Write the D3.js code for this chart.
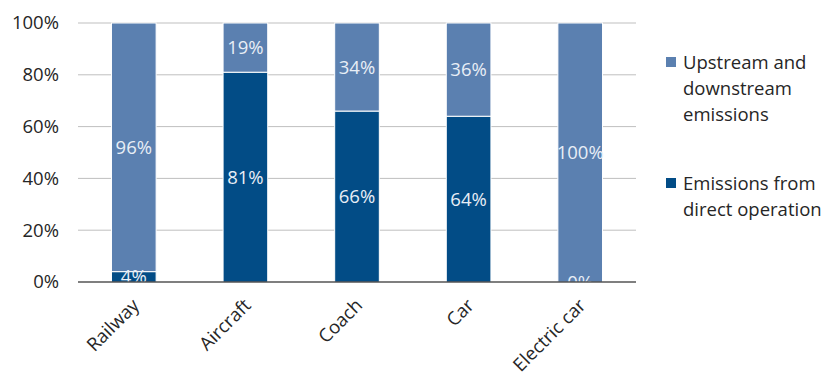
<!DOCTYPE html>
<html>
<head>
<meta charset="utf-8">
<style>
  body { margin: 0; background: #fff; }
  svg text { font-family: "Open Sans", "Noto Sans", sans-serif; }
  .grid line { stroke: #bfbfbf; stroke-width: 1px; }
  .tick text { font-size: 18.5px; fill: #262626; }
</style>
</head>
<body>
<script src="https://d3js.org/d3.v7.min.js"></script>
<script>
  var categories = ["Railway", "Aircraft", "Coach", "Car", "Electric car"];
  var direct   = [4, 81, 66, 64, 0];    // Emissions from direct operation
  var upstream = [96, 19, 34, 36, 100]; // Upstream and downstream emissions
  var yTicks = [0, 20, 40, 60, 80, 100];
  var legendLabels = [["Upstream and", "downstream", "emissions"], ["Emissions from", "direct operation"]];

  var colDirect = "#024c86", colUp = "#5b80b0";

  var W = 827, H = 381;
  var m = { top: 23, left: 78, right: 191, bottom: 99 };
  var w = W - m.left - m.right, h = H - m.top - m.bottom;

  var svg = d3.select("body").append("svg").attr("width", W).attr("height", H);
  var g = svg.append("g").attr("transform", "translate(" + m.left + "," + m.top + ")");

  var x = d3.scaleBand().domain(categories).range([0, w]).paddingInner(0.6).paddingOuter(0.3);
  var y = d3.scaleLinear().domain([0, 100]).range([h, 0]);

  // gridlines
  g.append("g").attr("class", "grid")
    .selectAll("line").data(yTicks.slice(1)).enter().append("line")
      .attr("x1", 0).attr("x2", w)
      .attr("y1", function (d) { return y(d); }).attr("y2", function (d) { return y(d); });

  // y axis labels
  var ya = g.append("g").call(d3.axisLeft(y).tickValues(yTicks).tickSize(0).tickPadding(19)
      .tickFormat(function (d) { return d + "%"; }));
  ya.select(".domain").remove();

  svg.append("defs").append("clipPath").attr("id", "plot")
    .append("rect").attr("x", 0).attr("y", -5).attr("width", w).attr("height", h + 5);

  var rows = categories.map(function (c, i) {
    return { cat: c, d: direct[i], u: upstream[i] };
  });

  var bars = g.append("g");
  bars.selectAll("rect.direct").data(rows).enter().append("rect")
    .attr("x", function (r) { return x(r.cat); })
    .attr("width", x.bandwidth())
    .attr("y", function (r) { return y(r.d); })
    .attr("height", function (r) { return h - y(r.d); })
    .style("fill", colDirect).style("stroke", "#fff").style("stroke-width", 1);

  bars.selectAll("rect.up").data(rows).enter().append("rect")
    .attr("x", function (r) { return x(r.cat); })
    .attr("width", x.bandwidth())
    .attr("y", function (r) { return y(r.d + r.u); })
    .attr("height", function (r) { return y(r.d) - y(r.d + r.u); })
    .style("fill", colUp).style("stroke", "#fff").style("stroke-width", 1);

  // data labels
  var labs = g.append("g").attr("clip-path", "url(#plot)")
    .style("font-size", "18.5px").style("fill", "#e8eef6").attr("text-anchor", "middle");
  rows.forEach(function (r) {
    labs.append("text").attr("x", x(r.cat) + x.bandwidth() / 2)
      .attr("y", y(r.d / 2)).attr("dy", "0.36em").text(r.d + "%");
    labs.append("text").attr("x", x(r.cat) + x.bandwidth() / 2)
      .attr("y", y(r.d + r.u / 2)).attr("dy", "0.36em").text(r.u + "%");
  });

  // baseline
  g.append("line").attr("x1", 0).attr("x2", w).attr("y1", h).attr("y2", h)
    .style("stroke", "#000").style("stroke-width", 1.2);

  // x labels
  g.append("g").selectAll("text").data(categories).enter().append("text")
    .attr("transform", function (c) {
      return "translate(" + (x(c) + x.bandwidth() / 2 + 2) + "," + (h + 20) + ") rotate(-45)";
    })
    .attr("text-anchor", "end").attr("dy", "0.35em")
    .style("font-size", "18.5px").style("fill", "#262626")
    .text(function (c) { return c; });

  // legend
  var leg = svg.append("g").attr("transform", "translate(666,0)");
  var legY = [63, 184], legC = [colUp, colDirect];
  legendLabels.forEach(function (lines, i) {
    leg.append("rect").attr("x", 0).attr("y", legY[i] - 6).attr("width", 10).attr("height", 10)
      .style("fill", legC[i]);
    lines.forEach(function (t, j) {
      leg.append("text").attr("x", 17).attr("y", legY[i] + j * 26).attr("dy", "0.35em")
        .style("font-size", "18.5px").style("fill", "#262626").text(t);
    });
  });
</script>
</body>
</html>
